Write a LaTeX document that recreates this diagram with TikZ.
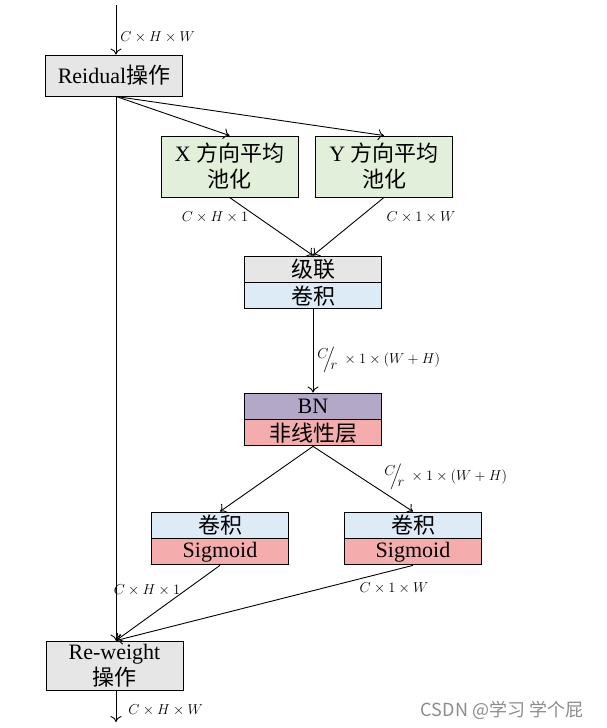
\documentclass[tikz,border=0pt]{standalone}
\usepackage{fontspec}
\usepackage{amsmath}
\setmainfont{Liberation Serif}
\newfontfamily\cjk{Noto Sans CJK SC}
\usetikzlibrary{arrows.meta,positioning}
\definecolor{boxgray}{RGB}{231,230,230}
\definecolor{boxgreen}{RGB}{226,239,218}
\definecolor{boxblue}{RGB}{221,235,247}
\definecolor{boxpurple}{RGB}{180,168,200}
\definecolor{boxpink}{RGB}{244,172,172}
\tikzstyle{basic} = [rectangle, minimum width=137pt, minimum height=41pt, inner sep=0pt, align=center, draw=black, font=\fontsize{22}{26}\selectfont]
\tikzstyle{half} = [basic, minimum height=26pt]
\tikzstyle{dim} = [inner sep=0pt, font=\fontsize{15.5}{18}\selectfont]
\newcommand{\slashfrac}{\raisebox{5pt}{$C$}\!\!\Big/\!\!\raisebox{-6pt}{$r$}\;}

\begin{document}
\begin{tikzpicture}[x=1pt, y=-1pt, node distance=0pt, >={To[length=6pt,width=11pt]}, line width=0.9pt]
        \useasboundingbox (0,0) rectangle (607,728);
        \node (res) [basic, fill=boxgray] at (114,75.5) {Reidual{\cjk 操作}};
        \node (xpool) [basic, fill=boxgreen, minimum height=61pt] at (229.5,166.5) {X {\cjk 方向平均}\\{\cjk 池化}};
        \node (ypool) [basic, fill=boxgreen, minimum height=61pt] at (384,166.5) {Y {\cjk 方向平均}\\{\cjk 池化}};
        \node (cat) [half, fill=boxgray] at (313,269) {\cjk 级联};
        \node (conv) [half, fill=boxblue, below=of cat] {\cjk 卷积};
        \node (bn) [half, fill=boxpurple] at (313,406) {BN};
        \node (act) [half, fill=boxpink, below=of bn] {\cjk 非线性层};
        \node (lconv) [half, fill=boxblue] at (220,525) {\cjk 卷积};
        \node (lsig) [half, fill=boxpink, below=of lconv] {Sigmoid};
        \node (rconv) [half, fill=boxblue] at (413,525) {\cjk 卷积};
        \node (rsig) [half, fill=boxpink, below=of rconv] {Sigmoid};
        \node (rew) [basic, fill=boxgray, minimum height=49pt] at (114.5,665.5) {Re-weight\\{\cjk 操作}};
        \coordinate (in) at (116,5);
        \coordinate (out) at (116,722);

        % connectors
        \draw [->] (in) -- (res.north -| in);
        \draw [->] (res.south -| in) -- (xpool.north);
        \draw [->] (res.south -| in) -- (ypool.north);
        \draw [->] (res.south -| in) -- (rew.north -| in);
        \draw [->] (xpool.south) -- (cat.north);
        \draw [->] (ypool.south) -- (cat.north);
        \draw [->] (conv.south) -- (bn.north);
        \draw [->] (act.south) -- (lconv.north);
        \draw [->] (act.south) -- (rconv.north);
        \draw [->] (lsig.south) -- (rew.north -| in);
        \draw [->] (rsig.south) -- (rew.north -| in);
        \draw [->] (rew.south -| in) -- (out);

        % sizes
        \node (din) [dim, anchor=west] at (120,37) {$C\times H\times W$};
        \node (dx) [dim] at (215,217) {$C\times H\times 1$};
        \node (dy) [dim] at (421,217) {$C\times 1\times W$};
        \node (dcat) [dim, anchor=west] at (317,360) {$\slashfrac\times 1\times(W+H)$};
        \node (dact) [dim, anchor=west] at (384,477) {$\slashfrac\times 1\times(W+H)$};
        \node (dl) [dim] at (147,590) {$C\times H\times 1$};
        \node (dr) [dim] at (394,588) {$C\times 1\times W$};
        \node (dout) [dim, anchor=west] at (128,710) {$C\times H\times W$};
        \node (wm) [inner sep=0pt, text=black!45, font=\cjk\fontsize{18}{20}\selectfont] at (502,710) {CSDN @学习 学个屁};
\end{tikzpicture}
\end{document}
